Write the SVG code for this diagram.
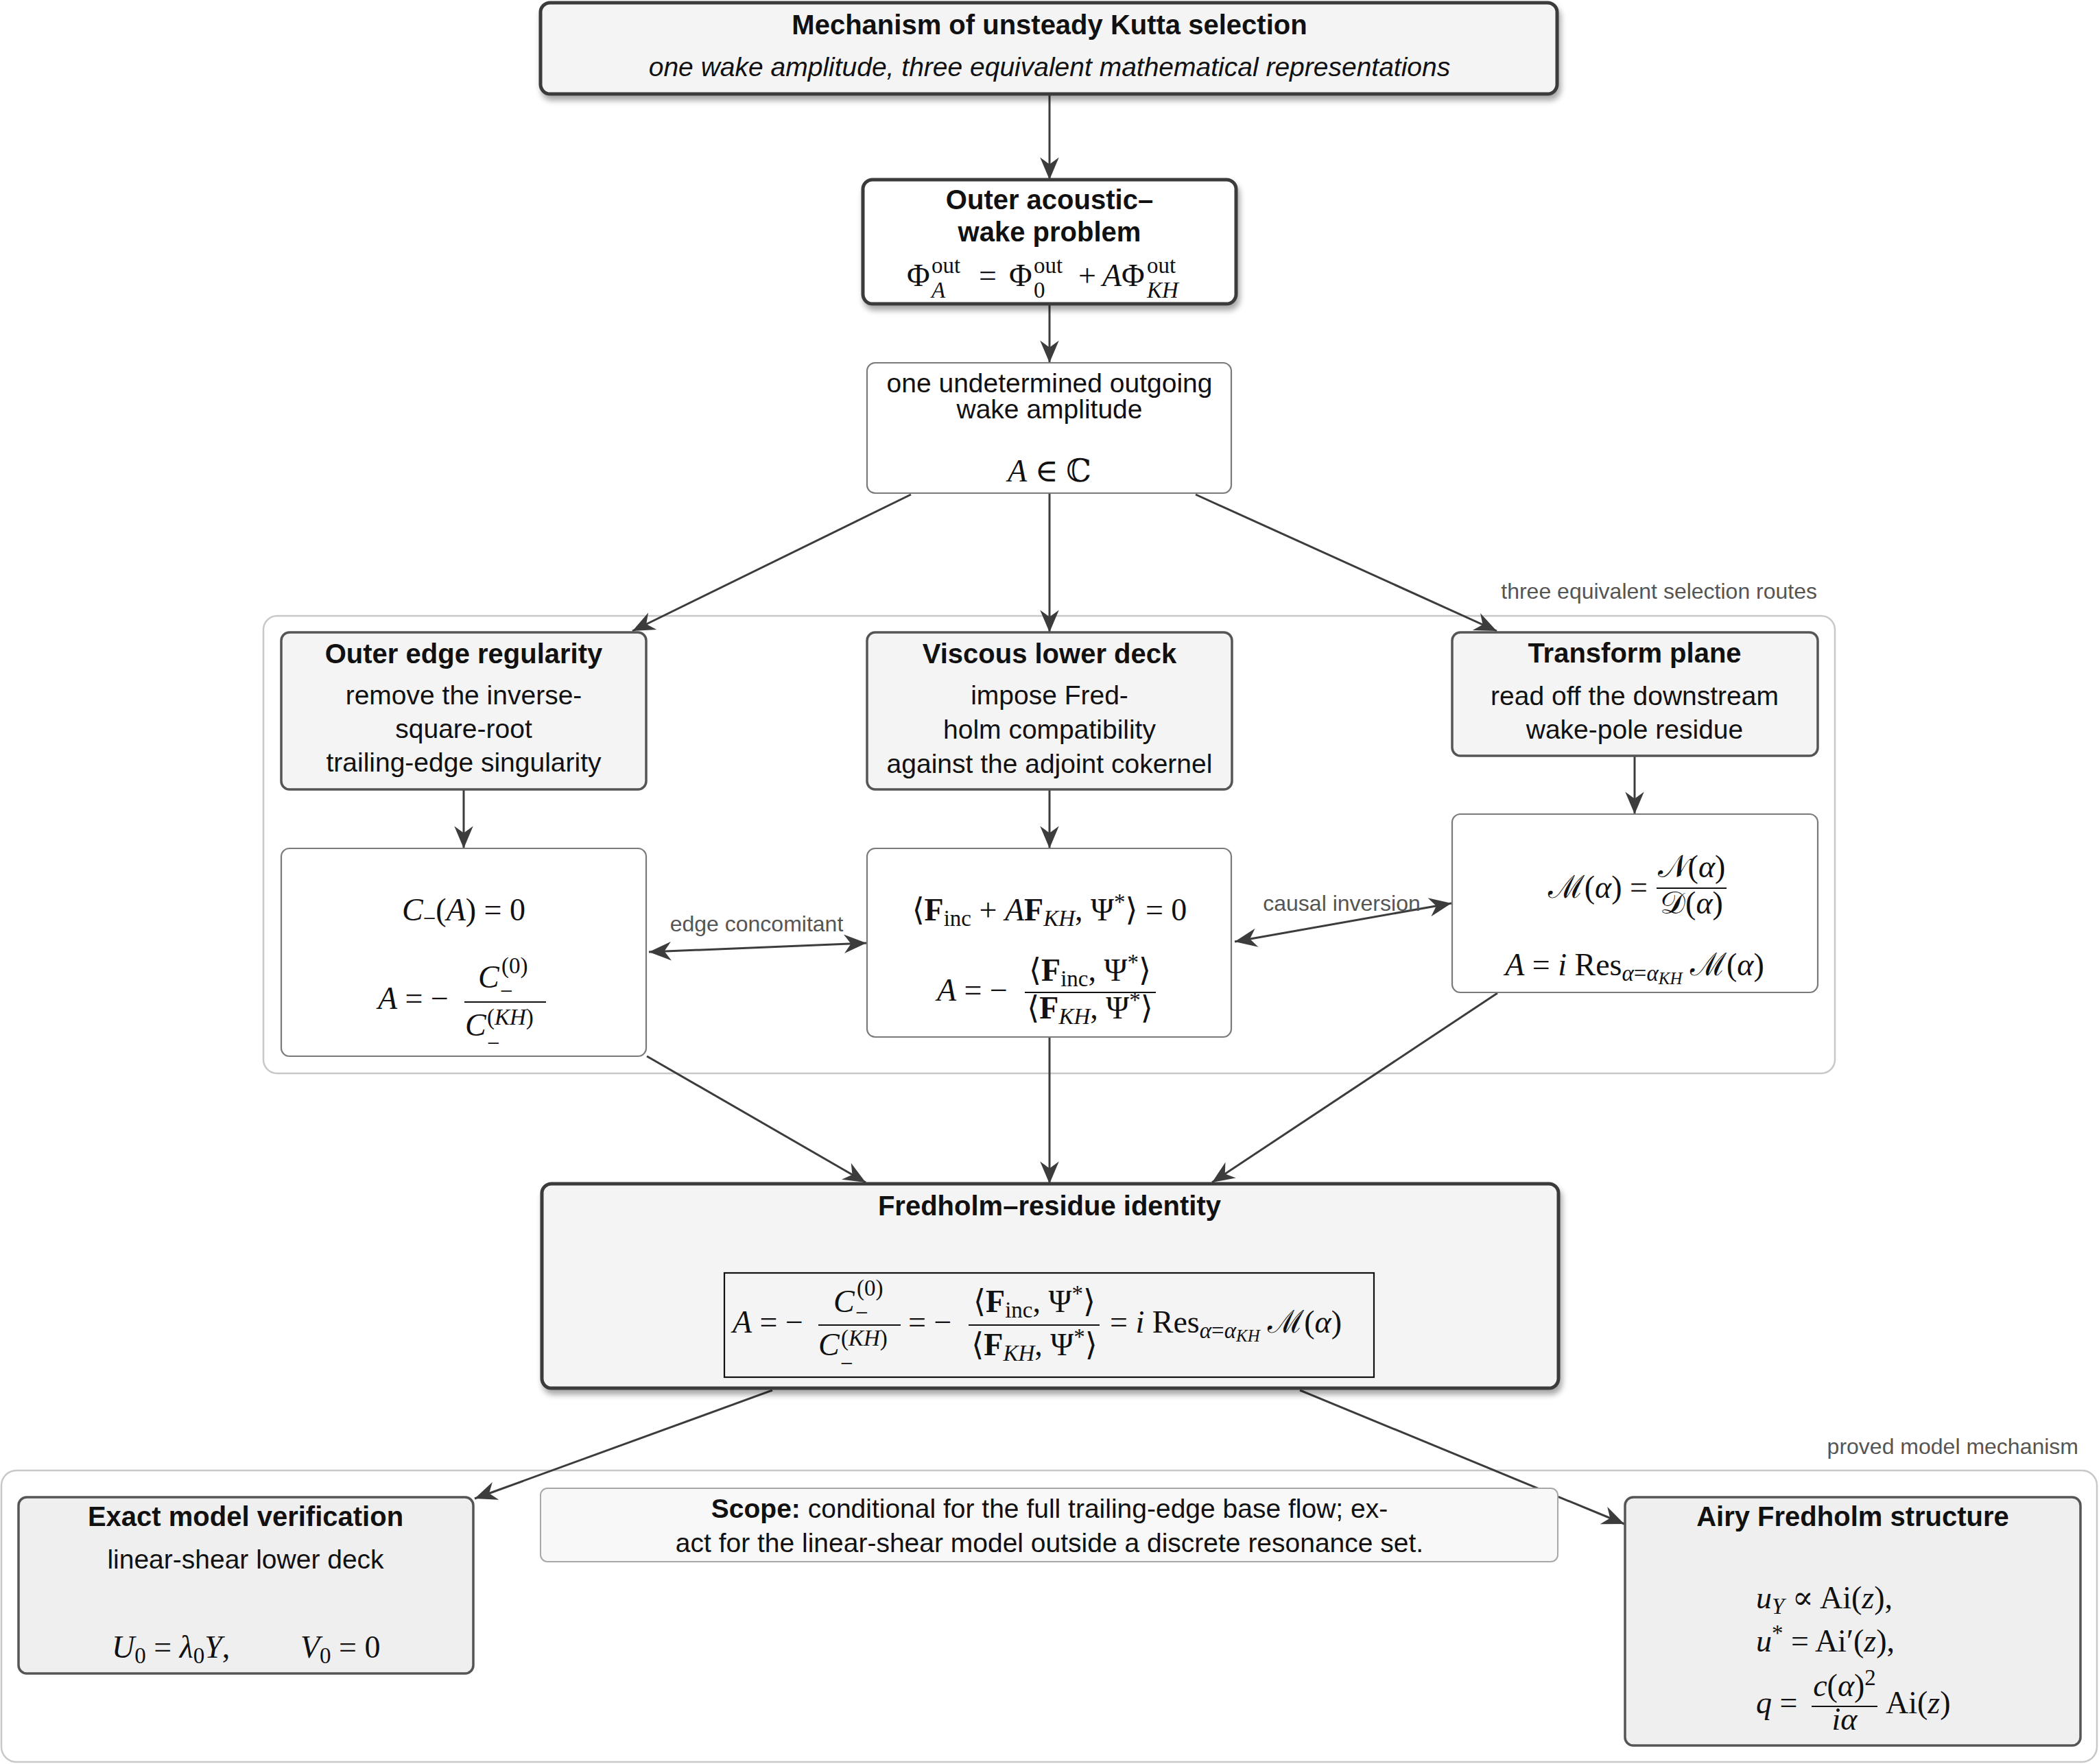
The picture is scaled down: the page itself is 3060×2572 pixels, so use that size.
<svg xmlns="http://www.w3.org/2000/svg" width="3060" height="2572" viewBox="0 0 3060 2572">
  <defs>
    <style>
      .sans { font-family: "Liberation Sans", Arial, sans-serif; fill: #111; }
      .ttl { font-size: 40px; font-weight: bold; text-anchor: middle; }
      .txt { font-size: 39px; text-anchor: middle; }
      .lbl { font-family: "Liberation Sans", Arial, sans-serif; font-size: 32px; fill: #555; }
      .m { font-family: "Liberation Serif", "DejaVu Serif", serif; font-size: 46px; fill: #111; }
      .it { font-style: italic; }
      .bf { font-weight: bold; }
      .sc { font-size: 33px; }
      .ssc { font-size: 25px; }
      .mid { text-anchor: middle; }
      .end { text-anchor: end; }
      .frac { stroke: #111; stroke-width: 2.2; }
      .n-heavy { fill: #f4f4f4; stroke: #3b3b3b; stroke-width: 5; }
      .n-heavy-w { fill: #ffffff; stroke: #3b3b3b; stroke-width: 5; }
      .n-step { fill: #f4f4f4; stroke: #555; stroke-width: 3.5; }
      .n-res { fill: #ffffff; stroke: #7a7a7a; stroke-width: 2.2; }
      .n-model { fill: #efefef; stroke: #555; stroke-width: 3.5; }
      .n-note { fill: #f8f8f8; stroke: #a8a8a8; stroke-width: 2; }
      .grp { fill: none; stroke: #c8c8c8; stroke-width: 2.5; }
      .eq-box { fill: none; stroke: #111; stroke-width: 2.2; }
      .edge { fill: none; stroke: #3c3c3c; stroke-width: 3; marker-end: url(#head); }
      .edge2 { fill: none; stroke: #3c3c3c; stroke-width: 3; marker-end: url(#head); marker-start: url(#head); }
    </style>
    <marker id="head" markerUnits="userSpaceOnUse" markerWidth="40" markerHeight="40" viewBox="-30 -15 32 30" refX="0" refY="0" orient="auto-start-reverse">
      <path d="M0,0 L-26,-11 L-18,0 L-26,11 Z" fill="#3c3c3c"/>
    </marker>
    <filter id="shadow" x="-5%" y="-10%" width="112%" height="135%">
      <feGaussianBlur in="SourceAlpha" stdDeviation="4"/>
      <feOffset dx="3" dy="7" result="o"/>
      <feComponentTransfer><feFuncA type="linear" slope="0.35"/></feComponentTransfer>
      <feMerge><feMergeNode/><feMergeNode in="SourceGraphic"/></feMerge>
    </filter>
  </defs>

  <rect width="3060" height="2572" fill="#ffffff"/>

  <!-- grouping frames -->
  <g id="frame-routes">
    <rect class="grp" x="384" y="898" width="2291" height="667" rx="20"/>
    <text class="lbl" x="2649" y="873" text-anchor="end">three equivalent selection routes</text>
  </g>
  <g id="frame-model">
    <rect class="grp" x="2" y="2144" width="3055" height="425" rx="22"/>
    <text class="lbl" x="3030" y="2120" text-anchor="end">proved model mechanism</text>
  </g>

  <!-- connectors -->
  <g id="connectors">
    <path class="edge" d="M1530,138 L1530,262"/>
    <path class="edge" d="M1530,443 L1530,529"/>
    <path class="edge" d="M1328,721 L922,920"/>
    <path class="edge" d="M1530,719 L1530,922"/>
    <path class="edge" d="M1743,721 L2182,920"/>
    <path class="edge" d="M676,1151 L676,1237"/>
    <path class="edge" d="M1530,1151 L1530,1237"/>
    <path class="edge" d="M2383,1102 L2383,1187"/>
    <path class="edge" d="M943,1540 L1262,1724"/>
    <path class="edge" d="M1530,1512 L1530,1726"/>
    <path class="edge" d="M2183,1448 L1767,1724"/>
    <path class="edge" d="M1126,2027 L692,2185"/>
    <path class="edge" d="M1895,2027 L2368,2222"/>
    <path class="edge2" d="M946,1388 L1263,1375"/>
    <path class="edge2" d="M1800,1373 L2116,1317"/>
    <text class="lbl" x="1103" y="1358" text-anchor="middle">edge concomitant</text>
    <text class="lbl" x="1956" y="1328" text-anchor="middle">causal inversion</text>
  </g>

  <!-- header -->
  <g id="n-header">
    <rect class="n-heavy" x="788" y="4" width="1482" height="133" rx="14" filter="url(#shadow)"/>
    <text class="sans ttl" x="1530" y="50">Mechanism of unsteady Kutta selection</text>
    <text class="sans txt" x="1530" y="111" font-style="italic">one wake amplitude, three equivalent mathematical representations</text>
  </g>

  <!-- outer problem -->
  <g id="n-outer">
    <rect class="n-heavy-w" x="1258" y="262" width="544" height="181" rx="14" filter="url(#shadow)"/>
    <text class="sans ttl" x="1530" y="305">Outer acoustic–</text>
    <text class="sans ttl" x="1530" y="352">wake problem</text>
    <text class="m" x="1322" y="417">Φ</text>
    <text class="m sc" x="1358" y="398">out</text>
    <text class="m sc it" x="1358" y="434">A</text>
    <text class="m mid" x="1440" y="417">=</text>
    <text class="m" x="1471" y="417">Φ</text>
    <text class="m sc" x="1507" y="398">out</text>
    <text class="m sc" x="1507" y="434">0</text>
    <text class="m mid" x="1585" y="417">+</text>
    <text class="m" x="1607" y="417"><tspan class="it">A</tspan>Φ</text>
    <text class="m sc" x="1672" y="398">out</text>
    <text class="m sc it" x="1672" y="434">KH</text>
  </g>

  <!-- undetermined amplitude -->
  <g id="n-amplitude">
    <rect class="n-res" x="1264" y="529" width="531" height="190" rx="12"/>
    <text class="sans txt" x="1530" y="572">one undetermined outgoing</text>
    <text class="sans txt" x="1530" y="610">wake amplitude</text>
    <text class="m mid" x="1530" y="702"><tspan class="it">A</tspan> ∈ <tspan font-family="DejaVu Serif, serif">ℂ</tspan></text>
  </g>

  <!-- route 1: outer edge regularity -->
  <g id="n-edge">
    <rect class="n-step" x="410" y="922" width="532" height="229" rx="12"/>
    <text class="sans ttl" x="676" y="967">Outer edge regularity</text>
    <text class="sans txt" x="676" y="1027">remove the inverse-</text>
    <text class="sans txt" x="676" y="1076">square-root</text>
    <text class="sans txt" x="676" y="1125">trailing-edge singularity</text>
  </g>
  <g id="n-edge-eq">
    <rect class="n-res" x="410" y="1237" width="532" height="303" rx="12"/>
    <text class="m mid" x="676" y="1342"><tspan class="it">C</tspan><tspan class="sc" dy="8">−</tspan><tspan dy="-8">(</tspan><tspan class="it">A</tspan>) = 0</text>
    <text class="m" x="551" y="1471"><tspan class="it">A</tspan> = −</text>
    <line class="frac" x1="677" y1="1461" x2="796" y2="1461"/>
    <text class="m it" x="697" y="1440">C</text>
    <text class="m sc" x="731" y="1419">(0)</text>
    <text class="m sc" x="729" y="1456">−</text>
    <text class="m it" x="678" y="1510">C</text>
    <text class="m sc" x="710" y="1494">(<tspan class="it">KH</tspan>)</text>
    <text class="m sc" x="710" y="1532">−</text>
  </g>

  <!-- route 2: viscous lower deck -->
  <g id="n-deck">
    <rect class="n-step" x="1264" y="922" width="532" height="229" rx="12"/>
    <text class="sans ttl" x="1530" y="967">Viscous lower deck</text>
    <text class="sans txt" x="1530" y="1027">impose Fred-</text>
    <text class="sans txt" x="1530" y="1077">holm compatibility</text>
    <text class="sans txt" x="1530" y="1127">against the adjoint cokernel</text>
  </g>
  <g id="n-deck-eq">
    <rect class="n-res" x="1264" y="1237" width="531" height="275" rx="12"/>
    <text class="m mid" x="1530" y="1342">⟨<tspan class="bf">F</tspan><tspan class="sc" dy="8">inc</tspan><tspan dy="-8"> + </tspan><tspan class="it">A</tspan><tspan class="bf">F</tspan><tspan class="sc it" dy="8">KH</tspan><tspan dy="-8">, Ψ</tspan><tspan class="sc" dy="-16">*</tspan><tspan dy="16">⟩ = 0</tspan></text>
    <text class="m" x="1366" y="1459"><tspan class="it">A</tspan> = −</text>
    <line class="frac" x1="1494" y1="1447" x2="1685" y2="1447"/>
    <text class="m mid" x="1589" y="1430">⟨<tspan class="bf">F</tspan><tspan class="sc" dy="8">inc</tspan><tspan dy="-8">, Ψ</tspan><tspan class="sc" dy="-16">*</tspan><tspan dy="16">⟩</tspan></text>
    <text class="m mid" x="1589" y="1485">⟨<tspan class="bf">F</tspan><tspan class="sc it" dy="8">KH</tspan><tspan dy="-8">, Ψ</tspan><tspan class="sc" dy="-16">*</tspan><tspan dy="16">⟩</tspan></text>
  </g>

  <!-- route 3: transform plane -->
  <g id="n-transform">
    <rect class="n-step" x="2117" y="922" width="533" height="180" rx="12"/>
    <text class="sans ttl" x="2383" y="966">Transform plane</text>
    <text class="sans txt" x="2383" y="1028">read off the downstream</text>
    <text class="sans txt" x="2383" y="1077">wake-pole residue</text>
  </g>
  <g id="n-transform-eq">
    <rect class="n-res" x="2117" y="1187" width="533" height="260" rx="12"/>
    <text class="m end" x="2402" y="1309">ℳ(<tspan class="it">α</tspan>) =</text>
    <line class="frac" x1="2415" y1="1295" x2="2517" y2="1295"/>
    <text class="m mid" x="2466" y="1279">𝒩(<tspan class="it">α</tspan>)</text>
    <text class="m mid" x="2466" y="1332">𝒟(<tspan class="it">α</tspan>)</text>
    <text class="m mid" x="2383" y="1422"><tspan class="it">A</tspan> = <tspan class="it">i</tspan> Res<tspan class="sc" dy="8"><tspan class="it">α</tspan>=<tspan class="it">α</tspan></tspan><tspan class="ssc it" dy="5">KH</tspan><tspan dy="-13"> ℳ(</tspan><tspan class="it">α</tspan>)</text>
  </g>

  <!-- identity -->
  <g id="n-identity">
    <rect class="n-heavy" x="790" y="1726" width="1482" height="298" rx="14" filter="url(#shadow)"/>
    <text class="sans ttl" x="1530" y="1772">Fredholm–residue identity</text>
    <rect class="eq-box" x="1056" y="1856" width="947" height="152"/>
    <text class="m" x="1068" y="1943"><tspan class="it">A</tspan> = −</text>
    <line class="frac" x1="1193" y1="1932" x2="1313" y2="1932"/>
    <text class="m it" x="1215" y="1913">C</text>
    <text class="m sc" x="1249" y="1889">(0)</text>
    <text class="m sc" x="1247" y="1925">−</text>
    <text class="m it" x="1193" y="1976">C</text>
    <text class="m sc" x="1226" y="1962">(<tspan class="it">KH</tspan>)</text>
    <text class="m sc" x="1225" y="1999">−</text>
    <text class="m" x="1324" y="1943">= −</text>
    <line class="frac" x1="1412" y1="1932" x2="1603" y2="1932"/>
    <text class="m mid" x="1508" y="1913">⟨<tspan class="bf">F</tspan><tspan class="sc" dy="8">inc</tspan><tspan dy="-8">, Ψ</tspan><tspan class="sc" dy="-16">*</tspan><tspan dy="16">⟩</tspan></text>
    <text class="m mid" x="1508" y="1976">⟨<tspan class="bf">F</tspan><tspan class="sc it" dy="8">KH</tspan><tspan dy="-8">, Ψ</tspan><tspan class="sc" dy="-16">*</tspan><tspan dy="16">⟩</tspan></text>
    <text class="m" x="1618" y="1943">= <tspan class="it">i</tspan> Res<tspan class="sc" dy="8"><tspan class="it">α</tspan>=<tspan class="it">α</tspan></tspan><tspan class="ssc it" dy="5">KH</tspan><tspan dy="-13"> ℳ(</tspan><tspan class="it">α</tspan>)</text>
  </g>

  <!-- model verification -->
  <g id="n-exact">
    <rect class="n-model" x="27" y="2183" width="663" height="257" rx="12"/>
    <text class="sans ttl" x="358" y="2225">Exact model verification</text>
    <text class="sans txt" x="358" y="2287">linear-shear lower deck</text>
    <text class="m" x="163" y="2417"><tspan class="it">U</tspan><tspan class="sc" dy="8">0</tspan><tspan dy="-8"> = </tspan><tspan class="it">λ</tspan><tspan class="sc" dy="8">0</tspan><tspan class="it" dy="-8">Y</tspan>,</text>
    <text class="m" x="438" y="2417"><tspan class="it">V</tspan><tspan class="sc" dy="8">0</tspan><tspan dy="-8"> = 0</tspan></text>
  </g>

  <!-- scope note -->
  <g id="n-scope">
    <rect class="n-note" x="788" y="2170" width="1483" height="107" rx="10"/>
    <text class="sans txt" x="1530" y="2213"><tspan font-weight="bold">Scope:</tspan> conditional for the full trailing-edge base flow; ex-</text>
    <text class="sans txt" x="1530" y="2263">act for the linear-shear model outside a discrete resonance set.</text>
  </g>

  <!-- Airy structure -->
  <g id="n-airy">
    <rect class="n-model" x="2369" y="2183" width="664" height="362" rx="12"/>
    <text class="sans ttl" x="2701" y="2225">Airy Fredholm structure</text>
    <text class="m" x="2560" y="2345"><tspan class="it">u</tspan><tspan class="sc it" dy="8">Y</tspan><tspan dy="-8"> ∝ Ai(</tspan><tspan class="it">z</tspan>),</text>
    <text class="m" x="2560" y="2408"><tspan class="it">u</tspan><tspan class="sc" dy="-16">*</tspan><tspan dy="16"> = Ai′(</tspan><tspan class="it">z</tspan>),</text>
    <text class="m" x="2560" y="2498"><tspan class="it">q</tspan> =</text>
    <line class="frac" x1="2641" y1="2488" x2="2737" y2="2488"/>
    <text class="m mid" x="2689" y="2473"><tspan class="it">c</tspan>(<tspan class="it">α</tspan>)<tspan class="sc" dy="-16">2</tspan></text>
    <text class="m mid it" x="2689" y="2522">iα</text>
    <text class="m" x="2749" y="2498">Ai(<tspan class="it">z</tspan>)</text>
  </g>
</svg>
